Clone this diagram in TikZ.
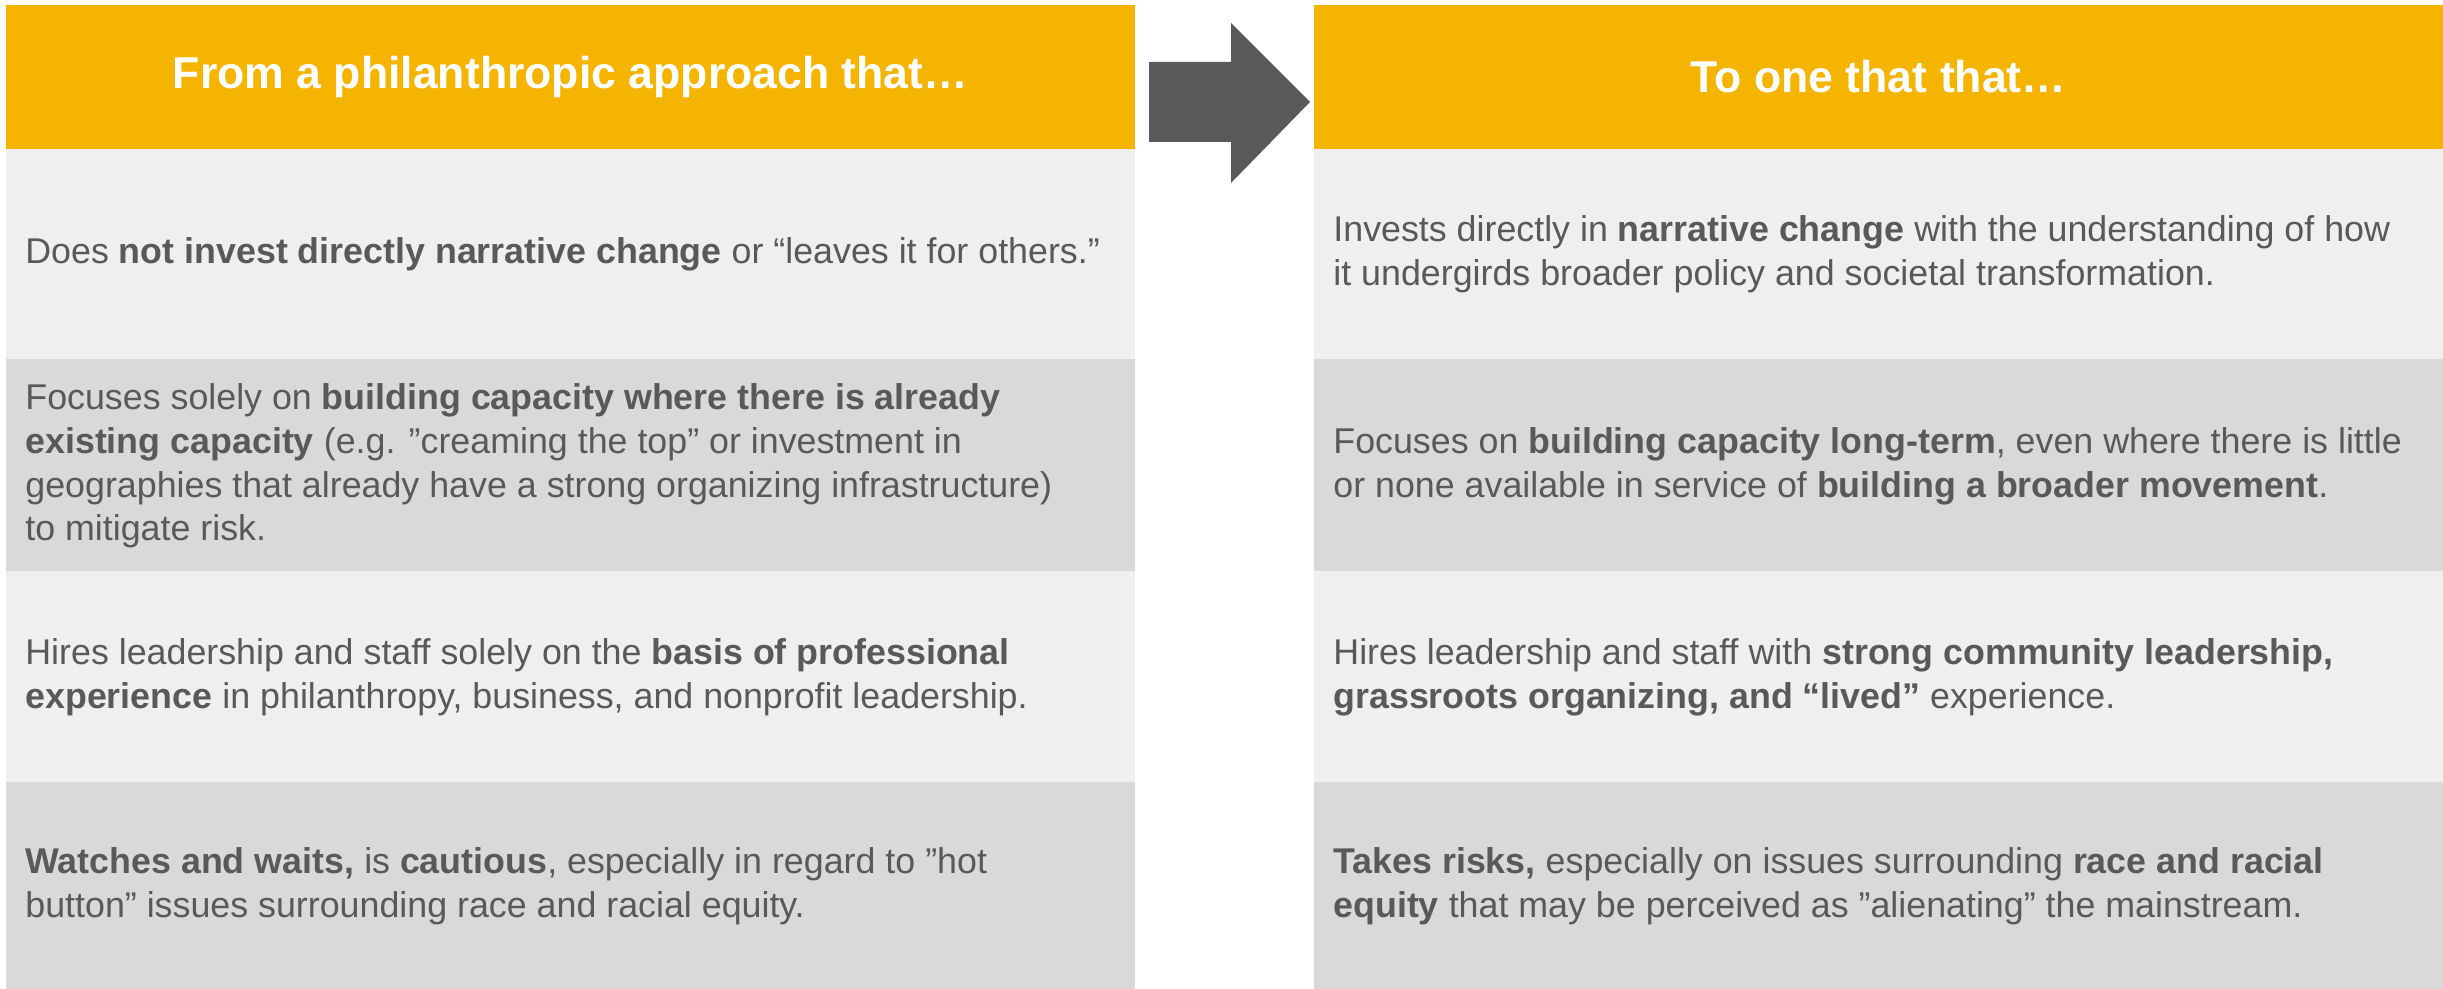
\documentclass[tikz,border=0pt]{standalone}
\usepackage{fontspec}
\setmainfont{Liberation Sans}
\definecolor{headyel}{HTML}{F4B400}
\definecolor{rowlight}{HTML}{EFEFEF}
\definecolor{rowdark}{HTML}{D9D9D9}
\definecolor{txtgray}{HTML}{595959}
\begin{document}
\begin{tikzpicture}[x=0.5pt,y=-0.5pt,line join=round,
	head/.style={text=white,font=\fontsize{22.3}{26}\selectfont\bfseries},
	cell/.style={anchor=west,align=left,inner sep=0pt,text=txtgray,font=\fontsize{17.9}{21.9}\selectfont}]
		\useasboundingbox (0,0) rectangle (2443,989);
		\fill[headyel] (6,5) rectangle (1135,149);
		\fill[headyel] (1314,5) rectangle (2443,149);
		\foreach \ya/\yb/\c in {149/359/rowlight,359/571/rowdark,571/782/rowlight,782/989/rowdark}{
			\fill[\c] (6,\ya) rectangle (1135,\yb);
			\fill[\c] (1314,\ya) rectangle (2443,\yb);
		}
		\fill[txtgray] (1149,62)--(1231,62)--(1231,23)--(1310,102)--(1231,183)--(1231,142)--(1149,142)--cycle;
		\node[head] (hl) at (570.5,77) {From a philanthropic approach that…};
		\node[head] (hr) at (1878.5,77) {To one that that…};
		\node[cell] (l1) at (25,254) {Does \textbf{not invest directly narrative change} or “leaves it for others.”};
		\node[cell] (l2) at (25,466) {Focuses solely on \textbf{building capacity where there is already}\\
		 \textbf{existing capacity} (e.g. ”creaming the top” or investment in\\
		 geographies that already have a strong organizing infrastructure)\\
		 to mitigate risk.};
		\node[cell] (l3) at (25,677) {Hires leadership and staff solely on the \textbf{basis of professional}\\
		 \textbf{experience} in philanthropy, business, and nonprofit leadership.};
		\node[cell] (l4) at (25,886) {\textbf{Watches and waits,} is \textbf{cautious}, especially in regard to ”hot\\
		 button” issues surrounding race and racial equity.};
		\node[cell] (r1) at (1333,254) {Invests directly in \textbf{narrative change} with the understanding of how\\
		 it undergirds broader policy and societal transformation.};
		\node[cell] (r2) at (1333,466) {Focuses on \textbf{building capacity long-term}, even where there is little\\
		 or none available in service of \textbf{building a broader movement}.};
		\node[cell] (r3) at (1333,677) {Hires leadership and staff with \textbf{strong community leadership,}\\
		 \textbf{grassroots organizing, and “lived”} experience.};
		\node[cell] (r4) at (1333,886) {\textbf{Takes risks,} especially on issues surrounding \textbf{race and racial}\\
		 \textbf{equity} that may be perceived as ”alienating” the mainstream.};
		\end{tikzpicture}
\end{document}
